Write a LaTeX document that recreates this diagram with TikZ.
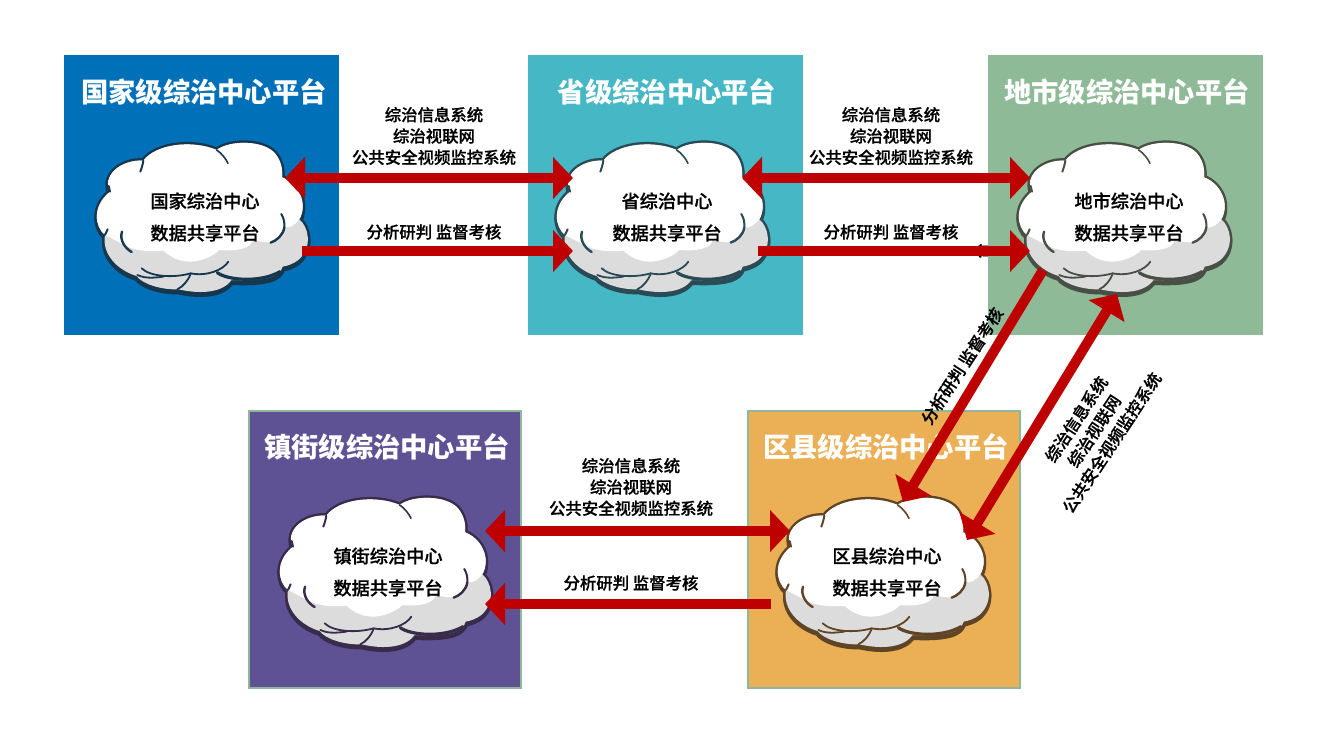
\documentclass[tikz,border=0pt]{standalone}
\usepackage{fontspec}
\setmainfont{Noto Sans CJK SC}
\newfontfamily\labelfont{Noto Sans CJK SC Medium}[FakeBold=0.7]
\usetikzlibrary{arrows.meta}
\definecolor{arrowred}{HTML}{BE0000}
\definecolor{bluebox}{HTML}{0070B8}
\definecolor{tealbox}{HTML}{45B7C5}
\definecolor{greenbox}{HTML}{8FBA97}
\definecolor{purplebox}{HTML}{5E5295}
\definecolor{orangebox}{HTML}{EBAF55}
\definecolor{boxedge}{HTML}{8FB89A}
\definecolor{cloudgrey}{HTML}{DCDCDC}
\definecolor{edgeblue}{HTML}{17374F}
\definecolor{edgeteal}{HTML}{2A4A55}
\definecolor{edgegreen}{HTML}{484F45}
\definecolor{edgepurple}{HTML}{382C4A}
\definecolor{edgeorange}{HTML}{5F4426}
\def\cloudsil{(250,122) .. controls (290,70) and (400,60) .. (470,90)
  .. controls (510,60) and (610,60) .. (645,100)
  .. controls (665,125) and (668,150) .. (666,172)
  .. controls (715,190) and (745,250) .. (718,298)
  .. controls (745,320) and (760,380) .. (715,420)
  .. controls (700,432) and (680,438) .. (668,440)
  .. controls (660,470) and (620,485) .. (515,480)
  .. controls (490,515) and (430,525) .. (355,508)
  .. controls (300,510) and (245,490) .. (230,468)
  .. controls (170,450) and (125,400) .. (135,345)
  .. controls (105,320) and (95,260) .. (150,215)
  .. controls (125,170) and (180,118) .. (250,122) -- cycle}
\def\cloudfront{(250,122) .. controls (290,70) and (400,60) .. (470,90)
  .. controls (510,60) and (610,60) .. (645,100)
  .. controls (665,125) and (668,150) .. (666,172)
  .. controls (715,190) and (745,250) .. (718,298)
  .. controls (705,315) and (690,325) .. (672,322)
  .. controls (670,345) and (650,362) .. (630,367)
  .. controls (610,368) and (590,362) .. (578,360)
  .. controls (575,385) and (530,395) .. (478,390)
  .. controls (460,410) and (420,425) .. (390,425)
  .. controls (350,425) and (325,405) .. (310,392)
  .. controls (280,395) and (250,395) .. (215,385)
  .. controls (190,375) and (155,355) .. (135,345)
  .. controls (105,320) and (95,260) .. (150,215)
  .. controls (125,170) and (180,118) .. (250,122) -- cycle}
\newcommand\cloudat[3]{%
\begin{scope}[shift={(#1,#2)},x=.3333pt,y=-.3333pt]
 \filldraw[#3,line width=5pt,line join=round] \cloudsil;
 \begin{scope}[yshift=-2.5pt]\filldraw[#3,line width=5pt,line join=round] \cloudsil;\end{scope}
 \fill[cloudgrey] \cloudsil;
 \fill[white] \cloudfront;
 % lobes inside the grey part
 \draw[#3,line width=1.8pt,line cap=round] (245,445) .. controls (270,470) and (340,475) .. (392,460);
 \draw[#3,line width=1.8pt,line cap=round] (392,460) .. controls (440,470) and (490,450) .. (505,425);
 \draw[#3,line width=1.8pt,line cap=round] (392,462) .. controls (385,480) and (370,500) .. (352,508);
 \draw[#3,line width=3.2pt,line cap=round] (472,458) .. controls (500,480) and (600,490) .. (660,455);
 \draw[#3,line width=1.8pt,line cap=round] (232,465) .. controls (260,478) and (290,472) .. (310,470);
 % lobes inside the white part
 \draw[#3,line width=1.6pt,line cap=round] (470,90) .. controls (485,100) and (497,115) .. (504,130);
 \draw[#3,line width=2pt,line cap=round] (250,122) .. controls (248,135) and (245,145) .. (241,155);
 \draw[#3,line width=2.4pt,line cap=round] (186,335) .. controls (178,360) and (195,385) .. (215,396);
 \draw[#3,line width=2pt,line cap=round] (664,282) .. controls (672,295) and (674,308) .. (673,322);
 \draw[#3,line width=2.4pt,line cap=round] (632,368) .. controls (650,362) and (670,345) .. (673,322);
 \draw[#3,line width=2pt,line cap=round] (150,215) -- (146,198);
 \draw[#3,line width=2pt,line cap=round] (135,345) -- (143,328);
\end{scope}}
\tikzset{
 paneltitle/.style={text=white,font=\bfseries\fontsize{27.3}{30}\selectfont,inner sep=0pt},
 cloudtext/.style={text=black,font=\labelfont\fontsize{18.2}{32}\selectfont,align=center,inner sep=0pt},
 linktext/.style={text=black,font=\labelfont\fontsize{16.4}{21.3}\selectfont,align=center,inner sep=0pt},
 link/.style={arrowred,line width=10pt},
 tip/.style={-{Triangle[length=20pt,width=41pt]}},
 tips/.style={{Triangle[length=20pt,width=41pt]}-{Triangle[length=20pt,width=41pt]}},
}
\begin{document}
\begin{tikzpicture}[x=1pt,y=-1pt]
\useasboundingbox (0,0) rectangle (1320,744);
\begin{scope}
\clip (970,235) rectangle (988,265);
\node[linktext,rotate=90] (hidden) at (982,251) {台};
\end{scope}
\fill[bluebox] (64,55) rectangle (339,335);
\fill[tealbox] (528,55) rectangle (803,335);
\fill[greenbox] (988,55) rectangle (1263,335);
\filldraw[fill=purplebox,draw=boxedge,line width=2.5pt] (249,411) rectangle (521,688);
\filldraw[fill=orangebox,draw=boxedge,line width=2.5pt] (748,411) rectangle (1020,688);
\node[paneltitle] (t1) at (204,92) {国家级综治中心平台};
\node[paneltitle] (t2) at (667,92) {省级综治中心平台};
\node[paneltitle] (t3) at (1127,92) {地市级综治中心平台};
\node[paneltitle] (t4) at (387,447) {镇街级综治中心平台};
\node[paneltitle] (t5) at (886,447) {区县级综治中心平台};
\cloudat{60}{120}{edgeblue}
\cloudat{520}{120}{edgeteal}
\cloudat{982}{120}{edgegreen}
\cloudat{243}{475}{edgepurple}
\cloudat{741}{475}{edgeorange}
\node[cloudtext] (c1) at (205,217) {国家综治中心\\数据共享平台};
\node[cloudtext] (c2) at (667,217) {省综治中心\\数据共享平台};
\node[cloudtext] (c3) at (1129,217) {地市综治中心\\数据共享平台};
\node[cloudtext] (c4) at (388,572) {镇街综治中心\\数据共享平台};
\node[cloudtext] (c5) at (887,572) {区县综治中心\\数据共享平台};
\coordinate (a1l) at (285,178); \coordinate (a1r) at (573,178);
\coordinate (b1l) at (302,251); \coordinate (b1r) at (573,251);
\coordinate (a2l) at (742,178); \coordinate (a2r) at (1030,178);
\coordinate (b2l) at (758,251); \coordinate (b2r) at (1030,251);
\coordinate (a3l) at (485,531); \coordinate (a3r) at (790,531);
\coordinate (b3l) at (485,604); \coordinate (b3r) at (771,604);
\coordinate (d1s) at (1043,270); \coordinate (d1e) at (903,502);
\coordinate (d2s) at (1117,294); \coordinate (d2e) at (967,540);
\draw[link,tips] (a1l) -- (a1r);
\draw[link,tip] (b1l) -- (b1r);
\draw[link,tips] (a2l) -- (a2r);
\draw[link,tip] (b2l) -- (b2r);
\draw[link,tips] (a3l) -- (a3r);
\draw[link,tip] (b3r) -- (b3l);
\draw[link,tip] (d1s) -- (d1e);
\draw[link,tips] (d2s) -- (d2e);
\node[linktext] (l1) at (434,136) {综治信息系统\\综治视联网\\公共安全视频监控系统};
\node[linktext] (l2) at (891,136) {综治信息系统\\综治视联网\\公共安全视频监控系统};
\node[linktext] (l3) at (631,487) {综治信息系统\\综治视联网\\公共安全视频监控系统};
\node[linktext] (m1) at (434,232) {分析研判 监督考核};
\node[linktext] (m2) at (891,232) {分析研判 监督考核};
\node[linktext] (m3) at (631,583) {分析研判 监督考核};
\node[linktext,rotate=57] (m4) at (962,366) {分析研判 监督考核};
\node[linktext,rotate=56.5] (l4) at (1094,431) {综治信息系统\\综治视联网\\公共安全视频监控系统};
\end{tikzpicture}
\end{document}
